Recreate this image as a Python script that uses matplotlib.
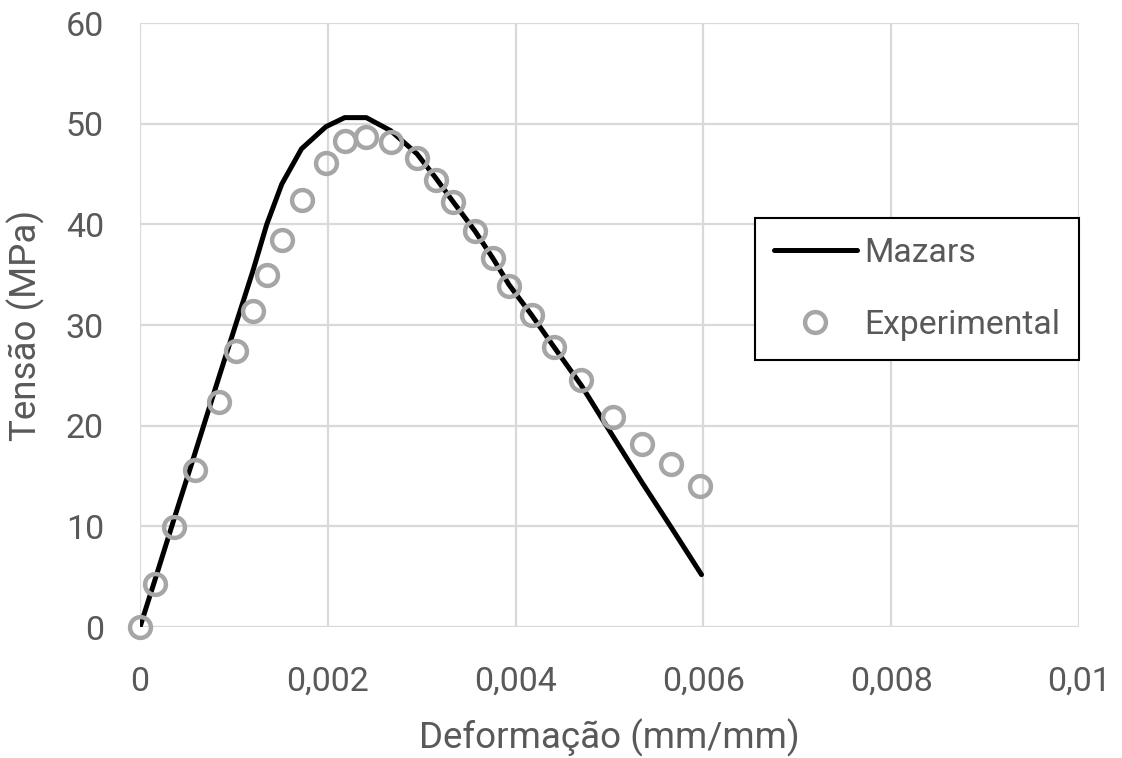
import matplotlib
matplotlib.use("Agg")
import matplotlib.pyplot as plt
from matplotlib.ticker import FuncFormatter

# Experimental data (strain mm/mm, stress MPa)
exp_strain = [0.0, 0.00016, 0.000365, 0.00059, 0.00084, 0.001025, 0.0012, 0.00135,
              0.00151, 0.00172, 0.00198, 0.00218, 0.00241, 0.00267, 0.00295, 0.00315,
              0.00333, 0.00357, 0.00376, 0.00393, 0.00417, 0.00441, 0.0047, 0.00504,
              0.00535, 0.00565, 0.00596]
exp_stress = [0.0, 4.3, 9.9, 15.6, 22.4, 27.4, 31.4, 35.0, 38.4, 42.4, 46.1, 48.3,
              48.7, 48.2, 46.6, 44.4, 42.2, 39.3, 36.7, 33.9, 31.0, 27.8, 24.5, 20.9,
              18.2, 16.2, 14.0]

# Mazars model
maz_strain = [0.0, 0.00016, 0.000365, 0.00059, 0.00084, 0.001025, 0.0012, 0.00135,
              0.00151, 0.00172, 0.00198, 0.00218, 0.00241, 0.00267, 0.00295, 0.00315,
              0.00333, 0.00357, 0.00376, 0.00393, 0.00417, 0.00441, 0.0047, 0.00504,
              0.00535, 0.00565, 0.00598]
maz_stress = [0.0, 4.7, 10.8, 17.4, 24.8, 30.2, 35.3, 40.0, 44.0, 47.5, 49.7, 50.6,
              50.6, 49.3, 47.0, 44.6, 42.3, 39.3, 36.6, 34.0, 31.0, 27.8, 24.0, 18.9,
              14.3, 10.0, 5.2]

x_ticks = [0, 0.002, 0.004, 0.006, 0.008, 0.01]
y_ticks = [0, 10, 20, 30, 40, 50, 60]

TXT = "#595959"
FONT = "Roboto"

fig = plt.figure(figsize=(11.22, 7.58), dpi=100)
ax = fig.add_axes([140/1122, 1-627/758, 939/1122, 604/758])

ax.plot(maz_strain, maz_stress, color="black", lw=3.6, label="Mazars",
        solid_joinstyle="round", solid_capstyle="round", zorder=3)
ax.plot(exp_strain, exp_stress, ls="none", marker="o", markersize=15,
        markerfacecolor="none", markeredgecolor="#a6a6a6", markeredgewidth=3.2,
        label="Experimental", zorder=4, clip_on=False)

ax.set_xlim(0, 0.01)
ax.set_ylim(0, 60)
ax.set_xticks(x_ticks)
ax.set_yticks(y_ticks)

def xfmt(v, p):
    if abs(v) < 1e-12:
        return "0"
    s = ("%.3f" % v).rstrip("0")
    return s.replace(".", ",")

ax.xaxis.set_major_formatter(FuncFormatter(xfmt))
ax.grid(True, color="#d9d9d9", lw=1.6, zorder=0)
ax.set_axisbelow(True)
for s in ax.spines.values():
    s.set_visible(False)
ax.tick_params(length=0, labelsize=24.5, labelcolor=TXT)
ax.tick_params(axis="x", pad=28)
ax.tick_params(axis="y", pad=26)
for lab in ax.get_xticklabels() + ax.get_yticklabels():
    lab.set_family(FONT)

ax.set_xlabel("Deformação (mm/mm)", fontsize=26.5, color=TXT, family=FONT, labelpad=15)
ax.set_ylabel("Tensão (MPa)", fontsize=26.5, color=TXT, family=FONT, labelpad=15)

leg = ax.legend(loc="upper right", bbox_to_anchor=(1079/1122, 1-218/758),
                bbox_transform=fig.transFigure, borderaxespad=0, fancybox=False,
                edgecolor="black", framealpha=1, handlelength=2.45,
                labelspacing=1.2, borderpad=0.55, handletextpad=0.23,
                prop={"family": FONT, "size": 24.3})
leg.get_frame().set_linewidth(1.5)
for t in leg.get_texts():
    t.set_color(TXT)

fig.savefig("out.png", dpi=100)
